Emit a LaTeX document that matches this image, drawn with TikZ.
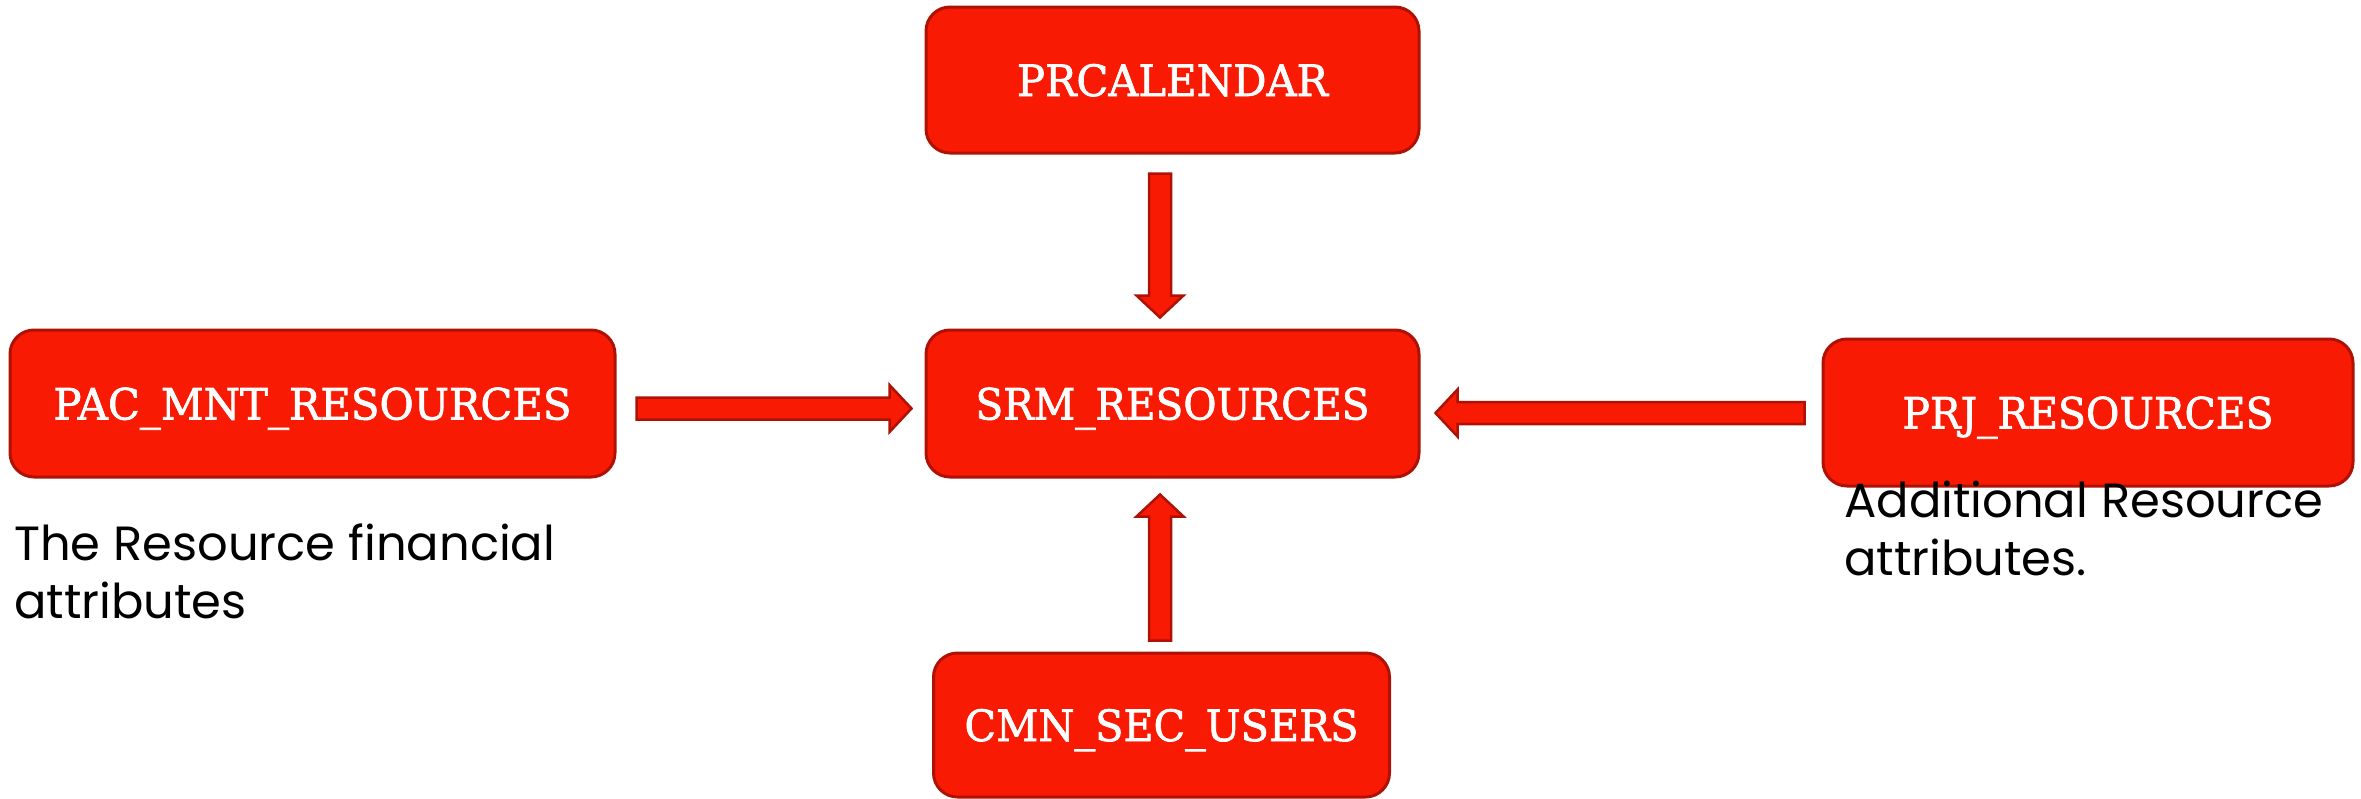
\documentclass[tikz,border=0pt]{standalone}
\usepackage{fontspec}
\usetikzlibrary{calc}
\newfontfamily\slabfont[FakeBold=1.6]{DejaVu Serif}
\newfontfamily\notefont{Poppins}
\definecolor{boxred}{HTML}{F81A02}
\definecolor{edgered}{HTML}{AE1206}
\newcommand{\lbl}[2]{\raisebox{-16pt}[0pt][0pt]{\resizebox{#1}{32pt}{#2}}}
\newcommand{\blockarrow}[3]{%
  \coordinate (#3q) at ($(#2)!22pt!(#1)$);
  \draw[barrow] ($(#1)!11pt!90:(#2)$) -- ($(#3q)!11pt!-90:(#1)$) --
    ($(#3q)!23.5pt!-90:(#1)$) -- (#2) -- ($(#3q)!23.5pt!90:(#1)$) --
    ($(#3q)!11pt!90:(#1)$) -- ($(#1)!11pt!-90:(#2)$) -- cycle;}
\begin{document}
\begin{tikzpicture}[x=1pt,y=-1pt,
  tbox/.style={draw=edgered, line width=3pt, fill=boxred, rounded corners=24pt,
    inner sep=0pt, text=white, font=\slabfont\fontsize{40}{48}\selectfont},
  barrow/.style={draw=edgered, line width=2.5pt, fill=boxred, line join=miter},
  note/.style={inner sep=0pt, anchor=base west, align=left,
    font=\notefont\fontsize{48}{58}\selectfont}]
\useasboundingbox (0,0) rectangle (2361,798);
\node[tbox, minimum width=493pt, minimum height=146pt] (cal) at (1172.5,80) {\lbl{311pt}{PRCALENDAR}};
\node[tbox, minimum width=493pt, minimum height=147pt] (srm) at (1172.5,403.5) {\lbl{394pt}{SRM\_RESOURCES}};
\node[tbox, minimum width=605pt, minimum height=147pt] (pac) at (312.5,403.5) {\lbl{518pt}{PAC\_MNT\_RESOURCES}};
\node[tbox, minimum width=530pt, minimum height=147pt] (prj) at (2088,412.5) {\lbl{371pt}{PRJ\_RESOURCES}};
\node[tbox, minimum width=456pt, minimum height=144pt] (cmn) at (1161.5,725) {\lbl{394pt}{CMN\_SEC\_USERS}};
\coordinate (a1s) at ($(cal.south)+(-12.5,19)$);
\coordinate (a1e) at ($(srm.north)+(-12.5,-11)$);
\coordinate (a2s) at ($(pac.east)+(20,5)$);
\coordinate (a2e) at ($(srm.west)+(-13,5)$);
\coordinate (a3s) at ($(prj.west)+(-17,0.5)$);
\coordinate (a3e) at ($(srm.east)+(15,9.5)$);
\coordinate (a4s) at ($(cmn.north)+(-1.5,-11)$);
\coordinate (a4e) at ($(srm.south)+(-12.5,16)$);
\blockarrow{a1s}{a1e}{A}
\blockarrow{a2s}{a2e}{B}
\blockarrow{a3s}{a3e}{C}
\blockarrow{a4s}{a4e}{D}
\node[note] (n1) at (14,618) {The Resource financial\\attributes};
\node[note] (n2) at (1844,575) {Additional Resource\\attributes.};
\end{tikzpicture}
\end{document}
